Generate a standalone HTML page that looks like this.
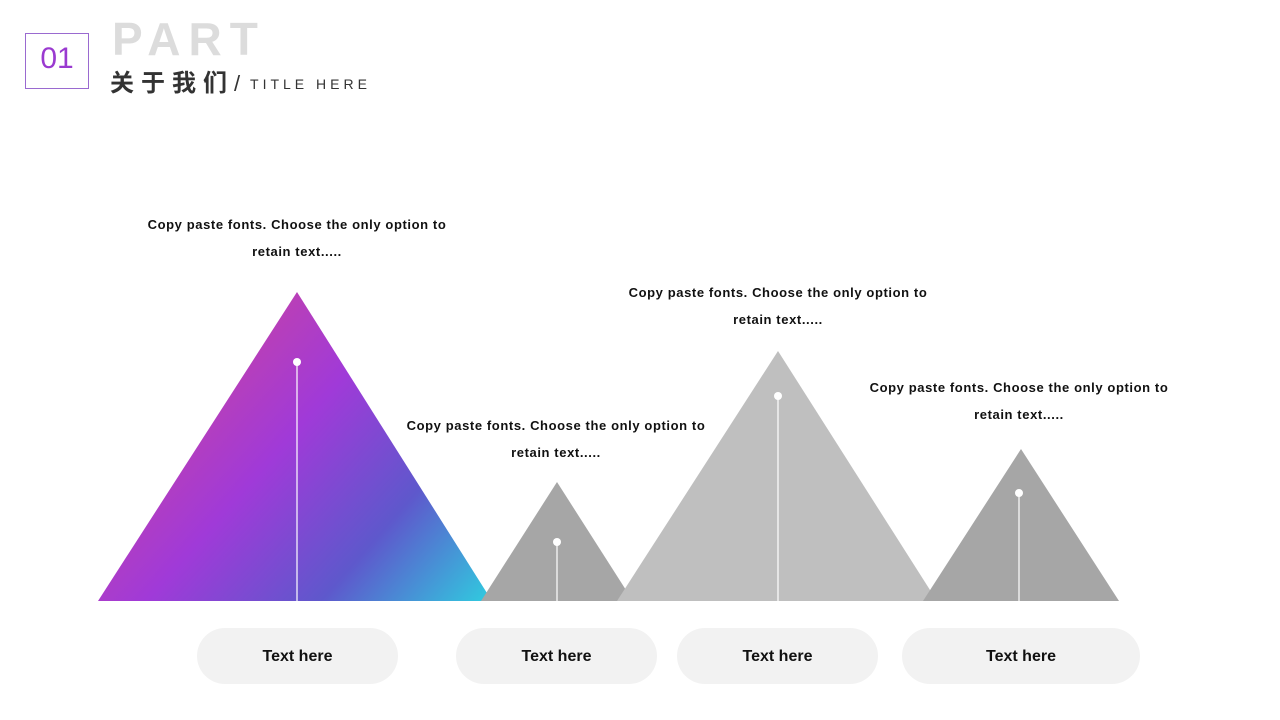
<!DOCTYPE html>
<html><head><meta charset="utf-8"><style>
body{margin:0;width:1280px;height:720px;background:#fff;position:relative;overflow:hidden;font-family:"Liberation Sans","Noto Sans CJK SC",sans-serif}
.a{position:absolute}
.t{position:absolute;width:300px;text-align:center;font-size:13px;font-weight:bold;line-height:27px;color:#111;letter-spacing:0.6px}
.p{position:absolute;top:628px;height:56px;border-radius:28px;background:#f2f2f2;text-align:center;line-height:58px;font-weight:bold;font-size:16px;color:#111}
</style></head><body>
<div class="a" style="left:25px;top:33px;width:62px;height:54px;border:1px solid #9a6ad0"></div>
<div class="a" style="left:25px;top:42px;width:64px;text-align:center;font-size:30px;color:#9a3ad0">01</div>
<div class="a" style="left:112px;top:12px;font-size:46px;font-weight:bold;letter-spacing:8px;color:#dcdcdc;line-height:54px">PART</div>
<div class="a" style="left:110px;top:68px;font-size:24px;font-weight:bold;letter-spacing:7px;color:#333;line-height:32px">关于我们<span style="font-weight:normal;font-size:22px;letter-spacing:2px">/</span><span style="font-size:14px;font-weight:normal;letter-spacing:4px;vertical-align:2px"> TITLE HERE</span></div>
<svg class="a" style="left:0;top:0" width="1280" height="720">
<defs><linearGradient id="g" x1="150" y1="330" x2="480" y2="620" gradientUnits="userSpaceOnUse">
<stop offset="0" stop-color="#d0449a"/><stop offset="0.4" stop-color="#a03ad8"/><stop offset="0.7" stop-color="#5e58cc"/><stop offset="1" stop-color="#2ed0e0"/></linearGradient></defs>
<polygon points="297,292 98,601 492,601" fill="url(#g)"/>
<polygon points="557,482 481,601 633,601" fill="#a6a6a6"/>
<polygon points="778,351 617,601 937,601" fill="#bfbfbf"/>
<polygon points="1021,449 923,601 1119,601" fill="#a6a6a6"/>
<g stroke="#fff" stroke-width="1.2"><line x1="297" y1="362" x2="297" y2="601"/><line x1="557" y1="542" x2="557" y2="601"/><line x1="778" y1="396" x2="778" y2="601"/><line x1="1019" y1="493" x2="1019" y2="601"/></g>
<g fill="#fff"><circle cx="297" cy="362" r="4"/><circle cx="557" cy="542" r="4"/><circle cx="778" cy="396" r="4"/><circle cx="1019" cy="493" r="4"/></g>
</svg>
<div class="t" style="left:147px;top:211px">Copy paste fonts. Choose the only option to retain text.....</div>
<div class="t" style="left:406px;top:412px">Copy paste fonts. Choose the only option to retain text.....</div>
<div class="t" style="left:628px;top:279px">Copy paste fonts. Choose the only option to retain text.....</div>
<div class="t" style="left:869px;top:374px">Copy paste fonts. Choose the only option to retain text.....</div>
<div class="p" style="left:197px;width:201px">Text here</div>
<div class="p" style="left:456px;width:201px">Text here</div>
<div class="p" style="left:677px;width:201px">Text here</div>
<div class="p" style="left:902px;width:238px">Text here</div>
</body></html>
